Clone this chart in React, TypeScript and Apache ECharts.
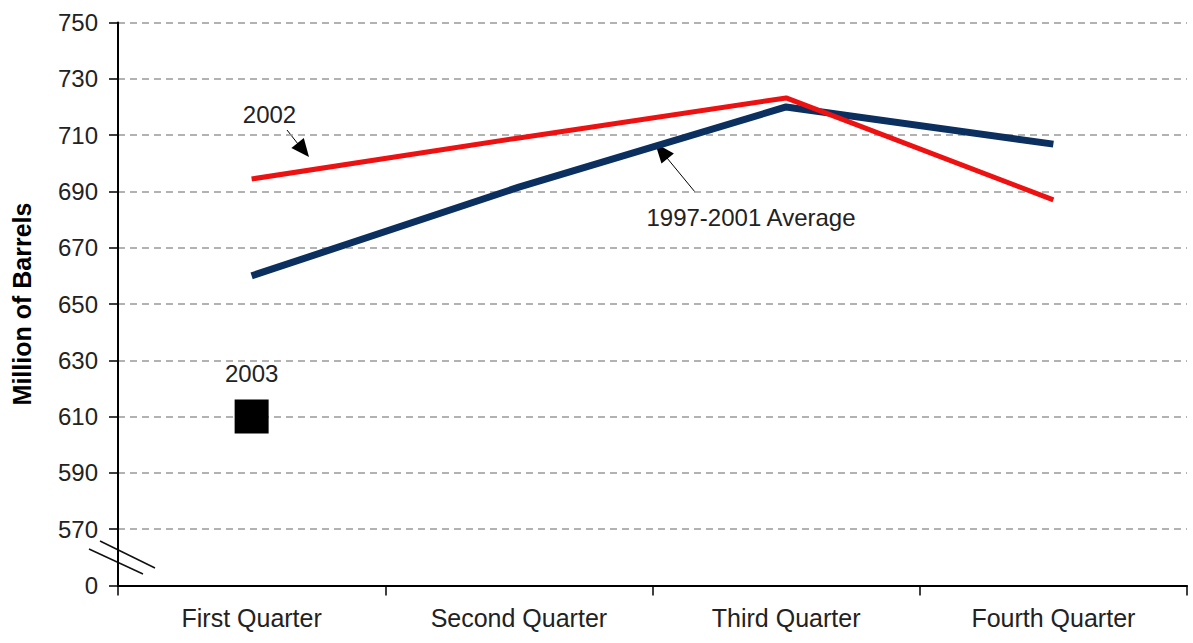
import React, { useEffect, useRef } from "react";
import * as echarts from "echarts";

const categories = ["First Quarter", "Second Quarter", "Third Quarter", "Fourth Quarter"];
const avg9701 = [660, 691.5, 720, 706.8];
const y2002 = [694.4, 709, 723.2, 687];
const y2003 = [610, null, null, null];
const yMin = 550;
const yMax = 750;
const yStep = 20;

const FONT = '"Liberation Sans", Arial, sans-serif';

export default function App() {
  const ref = useRef<HTMLDivElement>(null);
  useEffect(() => {
    if (!ref.current) return;
    const chart = echarts.init(ref.current, null, { renderer: "svg" });
    chart.setOption({
      animation: false,
      backgroundColor: "#ffffff",
      textStyle: { fontFamily: FONT },
      grid: { left: 118, right: 6, top: 22.5, bottom: 57.5, containLabel: false, outerBoundsMode: "none" },
      xAxis: {
        type: "category",
        data: categories,
        boundaryGap: true,
        axisLine: { lineStyle: { color: "#000", width: 2 } },
        axisTick: { show: true, length: 10, lineStyle: { color: "#000", width: 1.5 } },
        axisLabel: { color: "#222", fontSize: 25, margin: 20, fontFamily: FONT },
        splitLine: { show: false },
      },
      yAxis: {
        type: "value",
        min: yMin,
        max: yMax,
        interval: yStep,
        name: "Million of Barrels",
        nameLocation: "middle",
        nameRotate: 90,
        nameGap: 84,
        nameTextStyle: { color: "#000", fontSize: 25, fontWeight: "bold", fontFamily: FONT },
        axisLine: { show: true, lineStyle: { color: "#000", width: 2 } },
        axisTick: { show: true, length: 9, lineStyle: { color: "#000", width: 1.5 } },
        axisLabel: {
          color: "#222",
          fontSize: 24,
          margin: 20,
          fontFamily: FONT,
          formatter: (v: number) => (v === yMin ? "0" : String(v)),
        },
        splitLine: { show: true, lineStyle: { color: "#999", type: [7, 5], width: 1.5 } },
      },
      series: [
        {
          name: "1997-2001 Average",
          type: "line",
          data: avg9701,
          symbol: "none",
          lineStyle: { color: "#0b2f5e", width: 7 },
          z: 2,
        },
        {
          name: "2002",
          type: "line",
          data: y2002,
          symbol: "none",
          lineStyle: { color: "#ee1111", width: 5 },
          z: 3,
        },
        {
          name: "2003",
          type: "scatter",
          data: y2003,
          symbol: "rect",
          symbolSize: 34,
          itemStyle: { color: "#000", opacity: 1 },
          label: {
            show: true,
            position: "top",
            distance: 14,
            formatter: "2003",
            color: "#222",
            opacity: 1,
            fontSize: 24,
            fontFamily: FONT,
          },
          z: 4,
        },
      ],
      graphic: [
        { type: "text", x: 269.5, y: 114, style: { text: "2002", fill: "#222", fontSize: 24, fontFamily: FONT, align: "center", verticalAlign: "middle" } },
        { type: "line", shape: { x1: 287, y1: 130, x2: 298, y2: 144 }, style: { stroke: "#000", lineWidth: 1 } },
        { type: "polygon", shape: { points: [[309, 157], [291.4, 148.1], [303.8, 137.9]] }, style: { fill: "#000" } },
        { type: "text", x: 751, y: 217, style: { text: "1997-2001 Average", fill: "#222", fontSize: 24, fontFamily: FONT, align: "center", verticalAlign: "middle" } },
        { type: "line", shape: { x1: 695, y1: 192, x2: 667, y2: 158 }, style: { stroke: "#000", lineWidth: 1 } },
        { type: "polygon", shape: { points: [[655, 143], [673.9, 153.4], [661.5, 163.6]] }, style: { fill: "#000" } },
        { type: "line", shape: { x1: 100, y1: 541, x2: 155, y2: 568 }, style: { stroke: "#111", lineWidth: 1.5 } },
        { type: "line", shape: { x1: 89, y1: 549, x2: 143, y2: 574 }, style: { stroke: "#111", lineWidth: 1.5 } },
      ],
    });
    return () => chart.dispose();
  }, []);
  return <div ref={ref} style={{ position: "fixed", left: 0, top: 0, width: 1193, height: 643 }} />;
}
